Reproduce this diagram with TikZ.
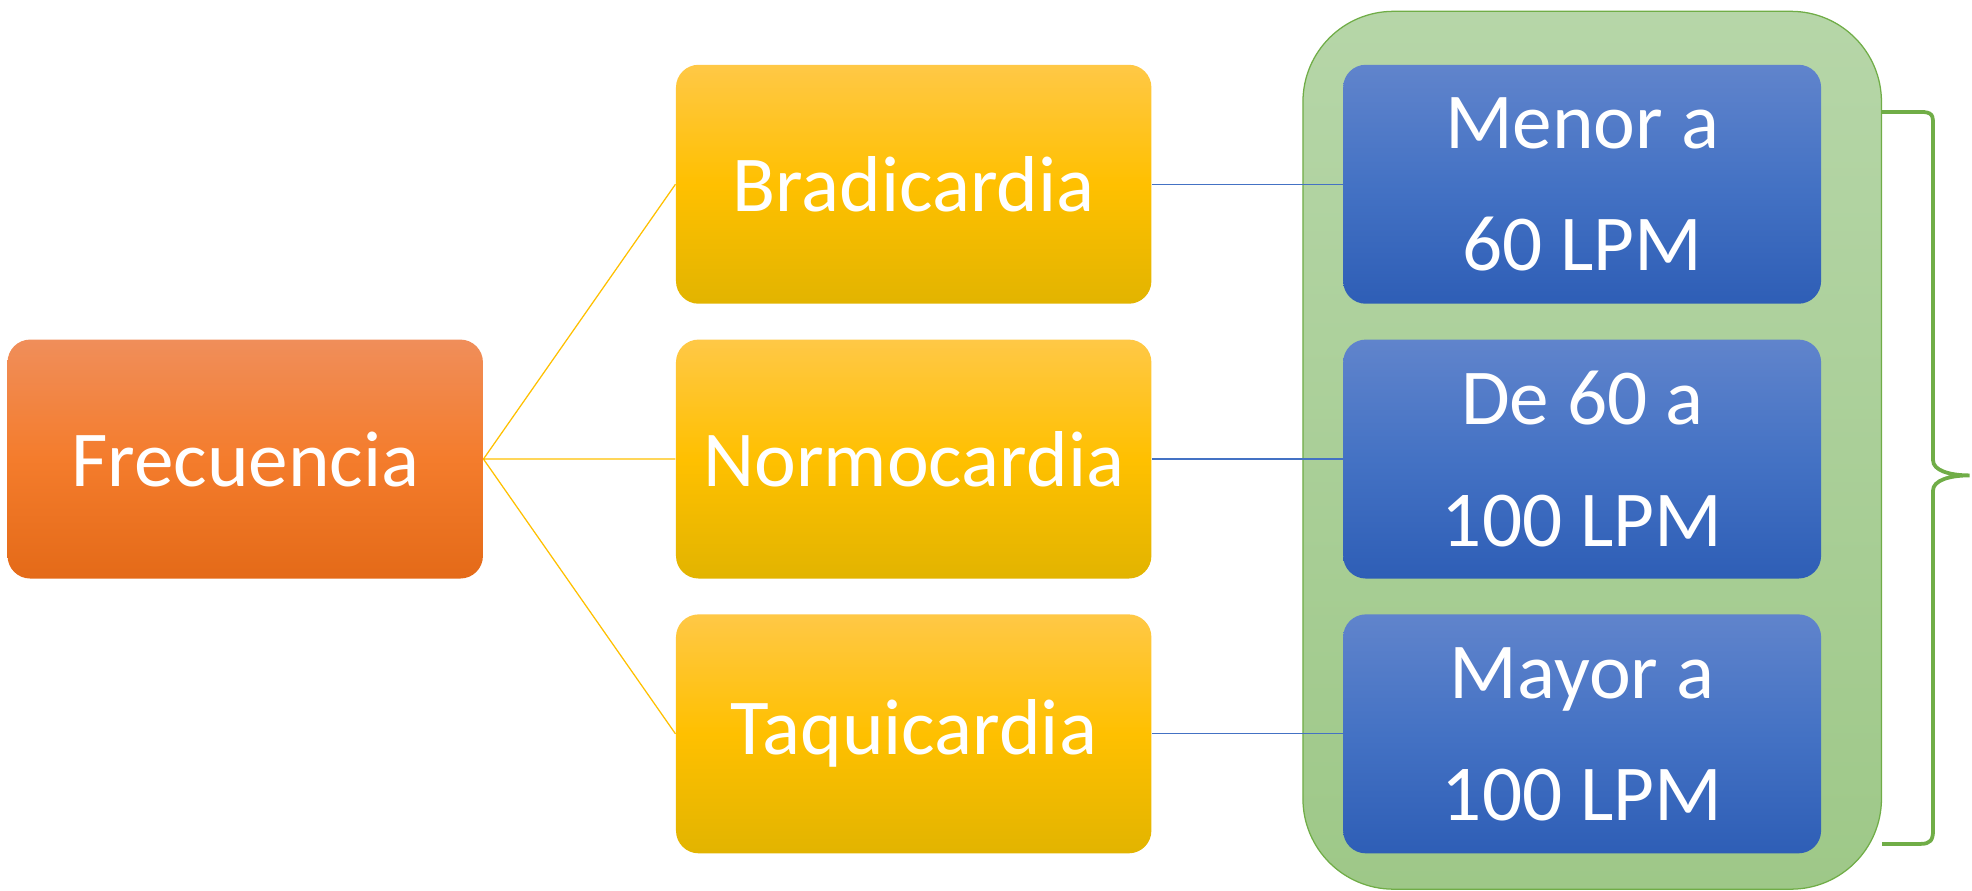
\documentclass[tikz,border=0pt]{standalone}
\usepackage{fontspec}
\setmainfont{Carlito}
\usetikzlibrary{positioning}

\definecolor{naranjaA}{RGB}{240,142,90}
\definecolor{naranjaB}{RGB}{244,124,44}
\definecolor{naranjaC}{RGB}{228,106,24}
\definecolor{amarilloA}{RGB}{255,200,70}
\definecolor{amarilloB}{RGB}{255,192,0}
\definecolor{amarilloC}{RGB}{226,180,0}
\definecolor{azulA}{RGB}{96,132,204}
\definecolor{azulB}{RGB}{68,114,196}
\definecolor{azulC}{RGB}{46,94,182}
\definecolor{verdeA}{RGB}{182,214,168}
\definecolor{verdeC}{RGB}{158,200,136}
\definecolor{verdeL}{RGB}{112,173,71}

\tikzset{
    caja/.style={rounded corners=9pt, minimum width=189pt, minimum height=95pt,
        inner sep=0pt, text=white, align=center,
        font=\fontsize{31.5}{48.5}\selectfont},
    raiz/.style={caja, top color=naranjaA, bottom color=naranjaC, middle color=naranjaB},
    tipo/.style={caja, top color=amarilloA, bottom color=amarilloC, middle color=amarilloB},
    rango/.style={caja, minimum width=190pt, top color=azulA, bottom color=azulC, middle color=azulB},
    fondo/.style={rounded corners=36pt, minimum width=230pt, minimum height=349pt,
        inner sep=0pt, draw=verdeL, line width=0.5pt, top color=verdeA, bottom color=verdeC},
    rama/.style={draw=amarilloB, line width=0.5pt},
    enlace/.style={draw=azulB, line width=0.5pt},
    llave/.style={draw=verdeL, line width=1.5pt}
}

\begin{document}
\begin{tikzpicture}[x=0.5pt, y=-0.5pt]
    \useasboundingbox (0,0) rectangle (1568,708);
    \node[fondo] (grupo) at (1266,358) {};

    \node[raiz] (frec) at (195,365) {Frecuencia};
    \node[tipo] (bradi) at (726.5,146.5) {Bradicardia};
    \node[tipo] (normo) at (726.5,365) {Normocardia};
    \node[tipo] (taqui) at (726.5,583.5) {Taquicardia};
    \node[rango] (menor) at (1258,146.5) {Menor a\\60 LPM};
    \node[rango] (entre) at (1258,365) {De 60 a\\100 LPM};
    \node[rango] (mayor) at (1258,583.5) {Mayor a\\100 LPM};

    \draw[rama]
        (frec.east) -- (bradi.west)
        (frec.east) -- (normo.west)
        (frec.east) -- (taqui.west);
    \draw[enlace]
        (bradi.east) -- (menor.west)
        (normo.east) -- (entre.west)
        (taqui.east) -- (mayor.west);

    % llave a la derecha
    \draw[llave] (grupo.east |- 0,89) -- (1527,89)
        .. controls (1537,89) and (1537,92) .. (1537,100) -- (1537,366)
        .. controls (1537,374) and (1550,378) .. (1566,378)
        .. controls (1550,378) and (1537,382) .. (1537,390) -- (1537,660)
        .. controls (1537,668) and (1535,671) .. (1527,671) -- (grupo.east |- 0,671);
\end{tikzpicture}
\end{document}
